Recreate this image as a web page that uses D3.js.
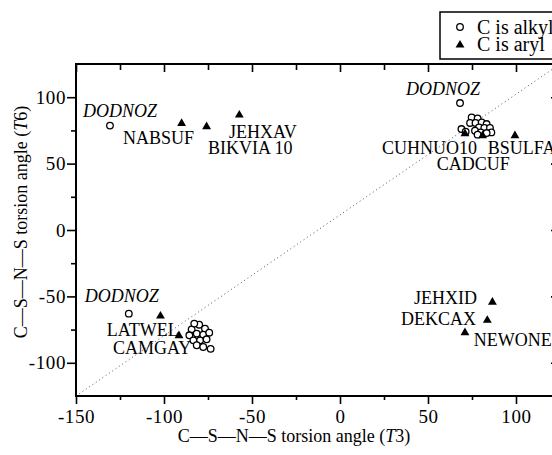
<!DOCTYPE html>
<html>
<head>
<meta charset="utf-8">
<script src="https://cdn.jsdelivr.net/npm/d3@7"></script>
<style>
  html, body { margin: 0; padding: 0; background: #fff; }
  svg { display: block; }
  text { font-family: "Liberation Serif", "Times New Roman", serif; fill: #000; }
</style>
</head>
<body>
<svg id="chart" width="552" height="455"></svg>
<script>
// ---- data (torsion angles, degrees) ----
const xMajorTicks = [-150, -100, -50, 0, 50, 100];
const xMinorTicks = [-125, -75, -25, 25, 75];
const yMajorTicks = [-100, -50, 0, 50, 100];
const yMinorTicks = [-75, -25, 25, 75];

// C is alkyl (open circles): [T3, T6]
const alkylT3 = [-130.7, -120, 68.2,
  74.8, 78.2, 73.9, 77, 80.5, 83.3, 79, 82, 85.2, 69, 71.4, 76.7, 80, 86, 83.3, 78.2,
  -84.3, -80, -76.7, -85.6, -81.4, -77.7, -74.3, -83.3, -79.5, -75.8, -81.4, -77.7, -73.5, -82.8];
const alkylT6 = [78.6, -63, 95.6,
  84.8, 84, 80.6, 80.6, 81, 79.8, 77.3, 76.8, 76.8, 76, 74, 74.8, 73.5, 73.5, 73, 71.8,
  -74.8, -71.3, -74.3, -79.3, -78, -78.8, -77.3, -83.1, -83.1, -82.3, -86.8, -88.1, -89.5, -70.5];

// C is aryl (filled triangles): [T3, T6]
const arylT3 = [-90, -75.8, -57.2, -102, -91.5, 99.4, 71, 81, 86.6, 83.7, 71];
const arylT6 = [80.3, 77.8, 86.6, -64.8, -79.5, 71, 72.5, 71, -54.3, -68, -77.3];

// refcode labels: text and anchor (left, baseline) in data units
const labelText = ["DODNOZ", "NABSUF", "JEHXAV", "BIKVIA 10",
  "DODNOZ", "CUHNUO10", "BSULFA", "CADCUF",
  "DODNOZ", "LATWEL", "CAMGAY",
  "JEHXID", "DEKCAX", "NEWONE"];
const labelT3 = [-146, -123.3, -63, -75, 37.5, 23.9, 84, 55, -145, -132.5, -129, 42, 34.7, 76];
const labelT6 = [85.3, 65, 69.5, 57.5, 102, 57.5, 57.5, 45.5, -54, -79.6, -93, -55.7, -71.5, -87.3];
const italicCodes = ["DODNOZ"];

const legendLabels = ["C is alkyl", "C is aryl"];

// ---- drawing ----
const svg = d3.select("#chart");
const x = d3.scaleLinear().domain([-150, 125]).range([76, 560]);
const y = d3.scaleLinear().domain([-125, 125]).range([396, 64]);
const [x0, x1] = x.domain(), [y0, y1] = y.domain();

// diagonal dotted line, corner to corner
svg.append("line")
  .attr("x1", x(x0)).attr("y1", y(y0))
  .attr("x2", x(x1)).attr("y2", y(y1))
  .attr("stroke", "#555").attr("stroke-width", 1)
  .attr("stroke-dasharray", "1,3");

function styleAxis(g, fontSize) {
  g.select(".domain").remove();
  g.selectAll(".tick line").attr("stroke", "#000").attr("stroke-width", 1.6);
  g.selectAll(".tick text").attr("font-size", fontSize)
    .attr("letter-spacing", 0.6)
    .style("font-family", '"Liberation Serif", serif');
}
const fmt = d => String(d).replace("\u2212", "-");

// bottom
svg.append("g").attr("transform", `translate(0,${y(y0)})`)
  .call(d3.axisBottom(x).tickValues(xMajorTicks).tickSize(8).tickPadding(6).tickFormat(fmt))
  .call(g => styleAxis(g, 19));
svg.append("g").attr("transform", `translate(0,${y(y0)})`)
  .call(d3.axisBottom(x).tickValues(xMinorTicks).tickSize(4).tickFormat(""))
  .call(g => styleAxis(g, 19));
// top (inward)
svg.append("g").attr("transform", `translate(0,${y(y1)})`)
  .call(d3.axisTop(x).tickValues(xMajorTicks).tickSize(-8).tickFormat(""))
  .call(g => styleAxis(g, 19));
svg.append("g").attr("transform", `translate(0,${y(y1)})`)
  .call(d3.axisTop(x).tickValues(xMinorTicks).tickSize(-6).tickFormat(""))
  .call(g => styleAxis(g, 19));
// left
svg.append("g").attr("transform", `translate(${x(x0)},0)`)
  .call(d3.axisLeft(y).tickValues(yMajorTicks).tickSize(9).tickPadding(1).tickFormat(fmt))
  .call(g => styleAxis(g, 19));
svg.append("g").attr("transform", `translate(${x(x0)},0)`)
  .call(d3.axisLeft(y).tickValues(yMinorTicks).tickSize(5).tickFormat(""))
  .call(g => styleAxis(g, 19));
// right (inward)
svg.append("g").attr("transform", `translate(${x(x1)},0)`)
  .call(d3.axisRight(y).tickValues(yMajorTicks).tickSize(-9).tickFormat(""))
  .call(g => styleAxis(g, 19));
svg.append("g").attr("transform", `translate(${x(x1)},0)`)
  .call(d3.axisRight(y).tickValues(yMinorTicks).tickSize(-5).tickFormat(""))
  .call(g => styleAxis(g, 19));

// frame
svg.append("rect")
  .attr("x", x(x0)).attr("y", y(y1))
  .attr("width", x(x1) - x(x0)).attr("height", y(y0) - y(y1))
  .attr("fill", "none").attr("stroke", "#000").attr("stroke-width", 2);

// alkyl circles
const alkyl = alkylT3.map((v, i) => [v, alkylT6[i]]);
svg.append("g").selectAll("circle").data(alkyl).join("circle")
  .attr("cx", d => x(d[0])).attr("cy", d => y(d[1])).attr("r", 3.3)
  .attr("fill", "#fff").attr("stroke", "#000").attr("stroke-width", 1.3);

// aryl triangles
const aryl = arylT3.map((v, i) => [v, arylT6[i]]);
const tri = d3.symbol(d3.symbolTriangle).size(34);
svg.append("g").selectAll("path").data(aryl).join("path")
  .attr("d", tri)
  .attr("transform", d => `translate(${x(d[0])},${y(d[1])})`)
  .attr("fill", "#000");

// refcode labels
svg.append("g").selectAll("text").data(labelText).join("text")
  .attr("x", (d, i) => x(labelT3[i])).attr("y", (d, i) => y(labelT6[i]))
  .attr("font-size", 18)
  .attr("font-style", d => italicCodes.includes(d) ? "italic" : "normal")
  .text(d => d);

// axis titles
const xt = svg.append("text").attr("x", 294).attr("y", 442)
  .attr("text-anchor", "middle").attr("font-size", 18);
xt.append("tspan").text("C\u2014S\u2014N\u2014S torsion angle (");
xt.append("tspan").attr("font-style", "italic").text("T");
xt.append("tspan").text("3)");

const yt = svg.append("text").attr("transform", "translate(27,222) rotate(-90)")
  .attr("text-anchor", "middle").attr("font-size", 18);
yt.append("tspan").text("C\u2014S\u2014N\u2014S torsion angle (");
yt.append("tspan").attr("font-style", "italic").text("T");
yt.append("tspan").text("6)");

// legend
const lg = svg.append("g");
lg.append("rect").attr("x", 440).attr("y", 12).attr("width", 200).attr("height", 47)
  .attr("fill", "#fff").attr("stroke", "#000").attr("stroke-width", 1.5);
lg.append("circle").attr("cx", 460).attr("cy", 27).attr("r", 3.3)
  .attr("fill", "#fff").attr("stroke", "#000").attr("stroke-width", 1.3);
lg.append("path").attr("d", tri).attr("transform", "translate(460,45)").attr("fill", "#000");
lg.selectAll("text.leg").data(legendLabels).join("text").attr("class", "leg")
  .attr("x", 477).attr("y", (d, i) => 34 + i * 16.5)
  .attr("font-size", 20).text(d => d);
</script>
</body>
</html>
